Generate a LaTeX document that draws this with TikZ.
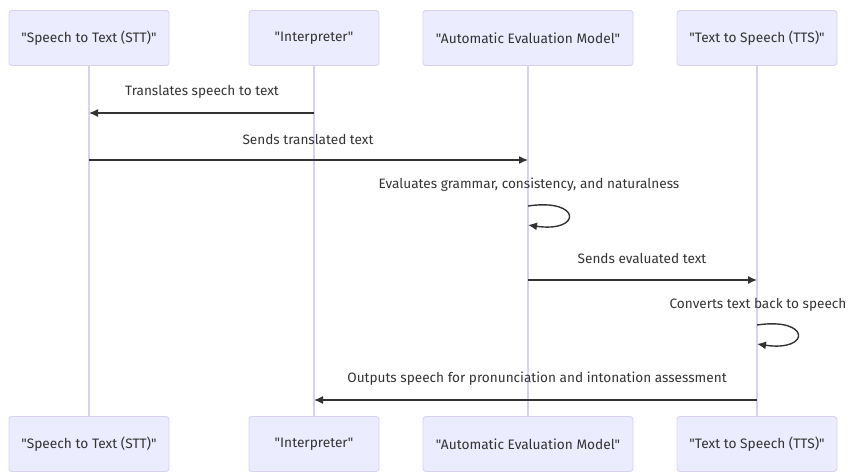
\documentclass[tikz,border=0pt]{standalone}
\usepackage{fontspec}
\setmainfont{Fira Sans}[Ligatures=TeXOff]
\usetikzlibrary{arrows.meta}
\definecolor{actfill}{HTML}{ECECFF}
\definecolor{actline}{HTML}{DAD0F2}
\definecolor{ink}{HTML}{333333}
\tikzset{
  actor/.style={draw=actline, fill=actfill, line width=0.9pt, rounded corners=3pt,
    minimum width=#1, minimum height=55pt, inner sep=0pt, text=ink,
    font=\fontsize{13.7pt}{15pt}\selectfont},
  lifeline/.style={draw=actline, line width=1.2pt},
  msg/.style={draw=ink, line width=1.4pt, -{Latex[length=9pt,width=8pt]}},
  msglabel/.style={text=ink, font=\fontsize{13.6pt}{15pt}\selectfont, inner sep=0pt}
}
\begin{document}
\begin{tikzpicture}[x=1pt,y=-1pt]
\useasboundingbox (0,0) rectangle (850,473);
% lifelines first
\coordinate (l1t) at (89,66); \coordinate (l1b) at (89,417);
\coordinate (l2t) at (314,66); \coordinate (l2b) at (314,417);
\coordinate (l3t) at (528,66); \coordinate (l3b) at (528,417);
\coordinate (l4t) at (757,66); \coordinate (l4b) at (757,417);
\draw[lifeline] (l1t) -- (l1b);
\draw[lifeline] (l2t) -- (l2b);
\draw[lifeline] (l3t) -- (l3b);
\draw[lifeline] (l4t) -- (l4b);
% actors top
\node[actor=160pt] (a1) at (89,38) {"Speech to Text (STT)"};
\node[actor=130pt] (a2) at (314,38) {"Interpreter"};
\node[actor=210pt] (a3) at (528,38) {"Automatic Evaluation Model"};
\node[actor=160pt] (a4) at (757,38) {"Text to Speech (TTS)"};
% actors bottom
\node[actor=160pt] (b1) at (89,444) {"Speech to Text (STT)"};
\node[actor=130pt] (b2) at (314,444) {"Interpreter"};
\node[actor=210pt] (b3) at (528,444) {"Automatic Evaluation Model"};
\node[actor=160pt] (b4) at (757,444) {"Text to Speech (TTS)"};
% message endpoints
\coordinate (m1s) at (314,113); \coordinate (m1e) at (89,113);
\coordinate (m2s) at (89,160); \coordinate (m2e) at (528,160);
\coordinate (m3s) at (528,206); \coordinate (m3e) at (528,225);
\coordinate (m4s) at (528,280); \coordinate (m4e) at (757,280);
\coordinate (m5s) at (757,325); \coordinate (m5e) at (757,344);
\coordinate (m6s) at (757,400); \coordinate (m6e) at (314,400);
% messages
\draw[msg] (m1s) -- (m1e);
\node[msglabel] (t1) at (202,92) {Translates speech to text};
\draw[msg] (m2s) -- (m2e);
\node[msglabel] (t2) at (308,139) {Sends translated text};
\draw[msg] (m3s) .. controls (582,198) and (582,233) .. (m3e);
\node[msglabel] (t3) at (529,185) {Evaluates grammar, consistency, and naturalness};
\draw[msg] (m4s) -- (m4e);
\node[msglabel] (t4) at (642,258) {Sends evaluated text};
\draw[msg] (m5s) .. controls (811,317) and (811,352) .. (m5e);
\node[msglabel] (t5) at (758,305) {Converts text back to speech};
\draw[msg] (m6s) -- (m6e);
\node[msglabel] (t6) at (537,379) {Outputs speech for pronunciation and intonation assessment};
\end{tikzpicture}
\end{document}
